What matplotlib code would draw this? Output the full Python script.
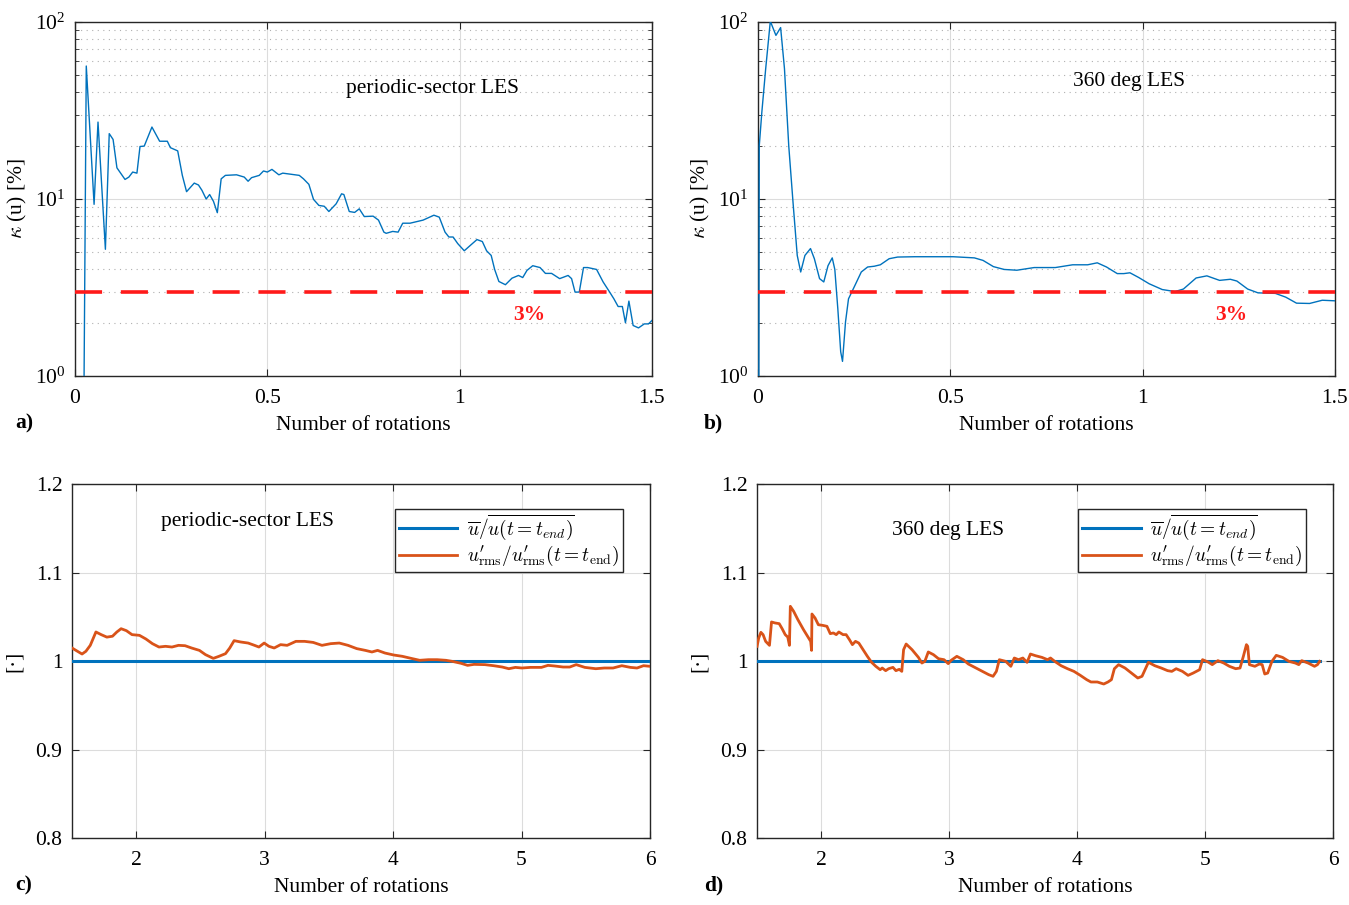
import numpy as np
import matplotlib
matplotlib.use('Agg')
import matplotlib.pyplot as plt
from matplotlib.ticker import LogLocator, NullFormatter, FixedLocator

plt.rcParams['font.family'] = ['Liberation Serif', 'DejaVu Serif']
plt.rcParams['mathtext.fontset'] = 'cm'

#==================
#====== Data
#==================
# a) periodic-sector LES, kappa(u) [%]
xa = [0.0226, 0.0293, 0.0496, 0.0598, 0.079, 0.089, 0.099, 0.109, 0.130, 0.140, 0.150, 0.161,
      0.169, 0.180, 0.200, 0.220, 0.240, 0.248, 0.267, 0.279, 0.290, 0.310, 0.321, 0.330, 0.341,
      0.350, 0.360, 0.370, 0.380, 0.391, 0.420, 0.440, 0.450, 0.459, 0.479, 0.490, 0.500, 0.512,
      0.530, 0.540, 0.583, 0.594, 0.608, 0.620, 0.634, 0.648, 0.660, 0.679, 0.693, 0.699, 0.713,
      0.727, 0.739, 0.752, 0.775, 0.789, 0.803, 0.809, 0.826, 0.840, 0.852, 0.871, 0.905, 0.933,
      0.947, 0.962, 0.972, 0.983, 0.995, 1.012, 1.029, 1.045, 1.059, 1.070, 1.082, 1.091, 1.102,
      1.119, 1.136, 1.153, 1.164, 1.175, 1.190, 1.209, 1.223, 1.239, 1.260, 1.282, 1.291, 1.300,
      1.311, 1.322, 1.333, 1.356, 1.373, 1.390, 1.401, 1.412, 1.423, 1.431, 1.440, 1.451, 1.465,
      1.480, 1.491, 1.500]
ka = [0.5, 56.4, 9.33, 27.2, 5.2, 23.4, 21.7, 15.0, 12.9, 13.3, 14.2, 14.0,
      19.8, 19.9, 25.5, 21.2, 21.2, 19.5, 18.7, 13.6, 11.0, 12.3, 12.0, 11.2, 10.0,
      10.6, 9.7, 8.37, 13.0, 13.6, 13.7, 13.3, 12.6, 13.2, 13.6, 14.4, 14.2, 14.7,
      13.7, 14.0, 13.6, 13.0, 12.1, 9.96, 9.2, 9.1, 8.5, 9.4, 10.7, 10.6, 8.5,
      8.4, 8.8, 7.96, 8.0, 7.6, 6.5, 6.4, 6.56, 6.5, 7.3, 7.3, 7.6, 8.1,
      7.9, 6.5, 6.1, 6.1, 5.6, 5.1, 5.5, 5.9, 5.75, 5.1, 4.8, 4.0, 3.42,
      3.28, 3.57, 3.7, 3.6, 3.95, 4.2, 4.1, 3.8, 3.8, 3.55, 3.7, 3.55, 2.98,
      2.98, 4.1, 4.1, 4.0, 3.4, 2.98, 2.73, 2.47, 2.47, 2.0, 2.65, 1.93, 1.87,
      1.97, 1.97, 2.06]

# b) 360 deg LES, kappa(u) [%]
xb = [0.0022, 0.0033, 0.010, 0.020, 0.032, 0.0466, 0.0588, 0.0688, 0.0799, 0.091, 0.102,
      0.111, 0.122, 0.1365, 0.1465, 0.160, 0.171, 0.182, 0.193, 0.1997, 0.2075, 0.215, 0.2197,
      0.2275, 0.2353, 0.252, 0.2685, 0.285, 0.302, 0.318, 0.341, 0.363, 0.407, 0.463, 0.507,
      0.5625, 0.585, 0.612, 0.640, 0.673, 0.718, 0.773, 0.818, 0.857, 0.882, 0.906, 0.934,
      0.951, 0.967, 0.990, 1.017, 1.051, 1.084, 1.106, 1.139, 1.167, 1.200, 1.228, 1.245,
      1.273, 1.300, 1.345, 1.372, 1.400, 1.434, 1.467, 1.500]
kb = [0.9, 20.0, 31.0, 54.5, 101.0, 84.0, 93.0, 54.5, 20.0, 9.6, 4.8,
      3.87, 4.8, 5.25, 4.6, 3.55, 3.4, 4.2, 4.65, 4.0, 2.4, 1.37, 1.21,
      2.02, 2.73, 3.25, 3.87, 4.13, 4.17, 4.25, 4.6, 4.7, 4.72, 4.72, 4.72,
      4.65, 4.5, 4.15, 4.0, 3.96, 4.1, 4.1, 4.25, 4.25, 4.36, 4.13, 3.79,
      3.79, 3.83, 3.6, 3.32, 3.08, 3.0, 3.1, 3.58, 3.68, 3.47, 3.52, 3.44,
      3.1, 2.95, 2.93, 2.79, 2.58, 2.57, 2.68, 2.66]

# c) periodic-sector LES, u'rms ratio
xc = [1.5, 1.534, 1.578, 1.608, 1.642, 1.686, 1.727, 1.771, 1.815, 1.849, 1.882, 1.923, 1.967,
      2.025, 2.075, 2.126, 2.177, 2.228, 2.278, 2.329, 2.380, 2.431, 2.492, 2.539, 2.600, 2.644,
      2.695, 2.728, 2.762, 2.813, 2.871, 2.921, 2.955, 2.996, 3.033, 3.074, 3.124, 3.175, 3.243,
      3.311, 3.378, 3.446, 3.514, 3.581, 3.649, 3.717, 3.784, 3.835, 3.879, 3.937, 4.004, 4.072,
      4.140, 4.207, 4.275, 4.343, 4.411, 4.461, 4.529, 4.580, 4.630, 4.715, 4.783, 4.850, 4.901,
      4.952, 5.003, 5.070, 5.155, 5.206, 5.256, 5.324, 5.375, 5.426, 5.493, 5.578, 5.645, 5.713,
      5.781, 5.848, 5.899, 5.950, 6.0]
rc = [1.0147, 1.0117, 1.0079, 1.011, 1.0177, 1.0328, 1.0298, 1.027, 1.028, 1.0328, 1.0365, 1.0343, 1.0298,
      1.029, 1.0249, 1.0196, 1.0158, 1.0166, 1.0158, 1.0177, 1.0173, 1.0147, 1.012, 1.0072, 1.003, 1.0053,
      1.0083, 1.0147, 1.023, 1.0215, 1.0203, 1.0177, 1.0158, 1.0203, 1.0166, 1.0147, 1.0185, 1.0177, 1.0222,
      1.0222, 1.021, 1.0177, 1.0196, 1.0203, 1.0177, 1.014, 1.012, 1.0102, 1.012, 1.009, 1.0068, 1.0053,
      1.003, 1.0008, 1.0015, 1.0015, 1.0008, 0.9996, 0.9974, 0.9951, 0.9962, 0.9959, 0.9947, 0.9932, 0.9913,
      0.9928, 0.9921, 0.9928, 0.9928, 0.9951, 0.9944, 0.9932, 0.9932, 0.9959, 0.9928, 0.9913, 0.9921, 0.9921,
      0.9947, 0.9928, 0.9921, 0.9947, 0.994]

# d) 360 deg LES, u'rms ratio
xd = [1.5, 1.513, 1.530, 1.547, 1.567, 1.597, 1.613, 1.640, 1.673, 1.696, 1.720, 1.740, 1.753, 1.760,
      1.786, 1.819, 1.863, 1.903, 1.919, 1.926, 1.929, 1.953, 1.979, 2.012, 2.046, 2.072, 2.096, 2.119,
      2.139, 2.172, 2.196, 2.222, 2.245, 2.269, 2.295, 2.329, 2.362, 2.395, 2.428, 2.462, 2.478, 2.505,
      2.528, 2.562, 2.585, 2.611, 2.631, 2.645, 2.665, 2.711, 2.761, 2.788, 2.811, 2.838, 2.878, 2.918,
      2.961, 2.994, 3.017, 3.061, 3.111, 3.151, 3.210, 3.260, 3.310, 3.344, 3.370, 3.393, 3.443, 3.483,
      3.510, 3.543, 3.577, 3.610, 3.636, 3.676, 3.726, 3.770, 3.793, 3.826, 3.876, 3.926, 3.976, 4.026,
      4.076, 4.109, 4.159, 4.209, 4.242, 4.269, 4.292, 4.325, 4.375, 4.425, 4.475, 4.508, 4.558, 4.608,
      4.658, 4.708, 4.741, 4.775, 4.824, 4.868, 4.908, 4.958, 4.981, 5.024, 5.057, 5.101, 5.147, 5.191,
      5.240, 5.274, 5.300, 5.324, 5.334, 5.347, 5.390, 5.424, 5.447, 5.467, 5.490, 5.523, 5.557, 5.606,
      5.656, 5.706, 5.733, 5.756, 5.806, 5.856, 5.879, 5.896]
rd = [1.0166, 1.026, 1.0324, 1.0298, 1.0222, 1.0177, 1.0441, 1.043, 1.0422, 1.0365, 1.0298, 1.027, 1.0177, 1.0618,
      1.0561, 1.0467, 1.0354, 1.026, 1.0222, 1.012, 1.0531, 1.0486, 1.041, 1.0403, 1.0392, 1.0309, 1.0317, 1.0298,
      1.0328, 1.0298, 1.0298, 1.0241, 1.0185, 1.0222, 1.0203, 1.0128, 1.0053, 0.9985, 0.994, 0.9902, 0.9921, 0.9891,
      0.9913, 0.9928, 0.9891, 0.9906, 0.9883, 1.0128, 1.0192, 1.0128, 1.0041, 0.9977, 0.9996, 1.0102, 1.0072, 1.0026,
      1.0015, 0.997, 1.0008, 1.0053, 1.0015, 0.9966, 0.9921, 0.9883, 0.9846, 0.9827, 0.9883, 1.0015, 0.9996, 0.994,
      1.0034, 1.0015, 1.0034, 0.9985, 1.0079, 1.006, 1.0041, 1.0015, 1.0034, 0.9996, 0.9947, 0.9913, 0.9883, 0.9838,
      0.9789, 0.9763, 0.9763, 0.974, 0.9763, 0.9789, 0.9913, 0.9959, 0.9921, 0.9864, 0.9808, 0.9827, 0.9985, 0.9947,
      0.9921, 0.9891, 0.9883, 0.9913, 0.9883, 0.9838, 0.9864, 0.9902, 1.0015, 0.9989, 0.9959, 1.0004, 0.9977, 0.994,
      0.9913, 0.9921, 1.0053, 1.0185, 1.0166, 0.9959, 0.994, 0.9966, 0.9959, 0.9853, 0.9864, 0.9996, 1.0064, 1.0041,
      0.9996, 0.9977, 0.9959, 1.0004, 0.9977, 0.994, 0.9959, 0.9996]

threshold = 3.0  # [%]
labels_top = ['periodic-sector LES', '360 deg LES']
leg_mean = r'$\overline{u}/\overline{u(t=t_{end})}$'
leg_rms = r"$u_{\rm rms}^{\prime}/u_{\rm rms}^{\prime}(t=t_{\rm end})$"

#==================
#====== Style
#==================
blue = '#0072BD'
orange = '#D95319'
axcol = '#262626'
FS = 15.5

def style_axes(ax):
    for s in ax.spines.values():
        s.set_color(axcol)
        s.set_linewidth(1.0)
    ax.tick_params(which='both', direction='in', top=True, right=True, colors=axcol,
                   labelcolor='black', labelsize=FS)
    ax.tick_params(which='major', length=5)
    ax.tick_params(which='minor', length=3)
    ax.tick_params(axis='x', which='major', pad=9)
    ax.tick_params(axis='y', which='major', pad=7)
    ax.grid(True, which='major', color='#dcdcdc', lw=0.8, ls='-')
    ax.set_axisbelow(True)

fig = plt.figure(figsize=(13.49, 9.05), dpi=100)
ax_a = fig.add_axes([0.0556, 0.5845, 0.4277, 0.3912])
ax_b = fig.add_axes([0.5619, 0.5845, 0.4277, 0.3912])
ax_c = fig.add_axes([0.0534, 0.0740, 0.4284, 0.3912])
ax_d = fig.add_axes([0.5612, 0.0740, 0.4269, 0.3912])

#====== top panels: kappa(u)
for ax, x, k, lab, lx, ly, tx in [(ax_a, xa, ka, labels_top[0], 0.93, 42.0, 1.18),
                                  (ax_b, xb, kb, labels_top[1], 0.965, 46.0, 1.23)]:
    style_axes(ax)
    ax.set_yscale('log')
    ax.plot(x, k, color=blue, lw=1.0, zorder=3)
    ax.axhline(threshold, color='#ff1a1a', lw=2.6, ls=(0, (7.5, 5.2)), zorder=4)
    ax.text(tx, 2.22, '3%', color='#ff1a1a', fontsize=FS, fontweight='bold', ha='center', va='center')
    ax.text(lx, ly, lab, fontsize=FS, ha='center', va='center')
    ax.set_xlim(0, 1.5)
    ax.set_ylim(1, 100)
    ax.xaxis.set_major_locator(FixedLocator([0, 0.5, 1, 1.5]))
    ax.set_xticklabels(['0', '0.5', '1', '1.5'])
    ax.yaxis.set_major_locator(LogLocator(base=10, numticks=5))
    ax.yaxis.set_minor_locator(LogLocator(base=10, subs=np.arange(2, 10), numticks=20))
    ax.yaxis.set_minor_formatter(NullFormatter())
    ax.grid(True, which='minor', axis='y', color='#b0b0b0', lw=0.8, ls=(0, (1, 4)))
    ax.set_xlabel('Number of rotations', fontsize=FS, labelpad=6)
    ax.set_ylabel(r'$\kappa$ (u) [%]', fontsize=FS, labelpad=4)

#====== bottom panels: convergence ratios
for ax, x, r, lab, lx, ly in [(ax_c, xc, rc, labels_top[0], 2.87, 1.158),
                              (ax_d, xd, rd, labels_top[1], 2.99, 1.148)]:
    style_axes(ax)
    ax.plot([x[0], x[-1]], [1.0, 1.0], color=blue, lw=2.2, label=leg_mean, zorder=3)
    ax.plot(x, r, color=orange, lw=2.0, label=leg_rms, zorder=4)
    ax.text(lx, ly, lab, fontsize=FS, ha='center', va='center')
    ax.set_xlim(1.5, 6)
    ax.set_ylim(0.8, 1.2)
    ax.set_xticks([2, 3, 4, 5, 6])
    ax.set_yticks([0.8, 0.9, 1.0, 1.1, 1.2])
    ax.set_yticklabels(['0.8', '0.9', '1', '1.1', '1.2'])
    ax.set_xlabel('Number of rotations', fontsize=FS, labelpad=6)
    ax.set_ylabel('[\u00b7]', fontsize=FS, labelpad=8)
    leg = ax.legend(loc='upper right', bbox_to_anchor=(0.9706, 0.9576), fontsize=14,
                    frameon=True, fancybox=False, edgecolor=axcol, framealpha=1,
                    handlelength=3.0, borderpad=0.2, labelspacing=0.1, handletextpad=0.5)
    leg.get_frame().set_linewidth(1.0)

#====== panel letters
for lx, ly, s in [(0.011, 0.521, 'a)'), (0.522, 0.521, 'b)'), (0.011, 0.011, 'c)'), (0.522, 0.011, 'd)')]:
    fig.text(lx, ly, s, fontsize=FS, fontweight='bold', ha='left', va='bottom')

fig.savefig('out.png', dpi=100)
